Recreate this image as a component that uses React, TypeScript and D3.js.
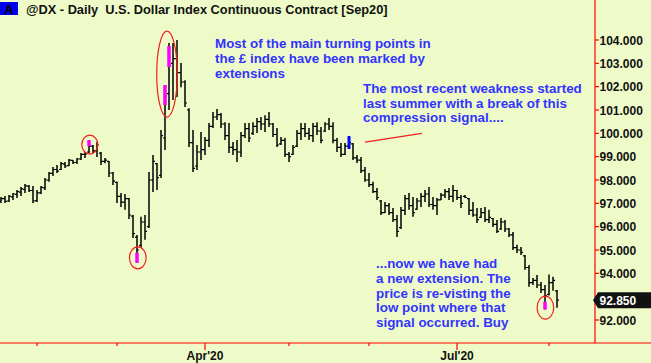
import React, { useEffect, useRef } from 'react';
import * as d3 from 'd3';

// trading calendar of the chart
const firstDay = '2020-01-21';
const lastDay = '2020-08-05';
const closedDays = ['2020-04-10', '2020-05-25'];

const highs = [
	97.27, 97.31, 97.36, 97.44, 97.57, 97.70, 97.83, 97.79, 97.74, 97.57,
	97.74, 98.09, 98.34, 98.56, 98.64, 98.77, 98.77, 98.90, 98.86, 98.94,
	99.16, 99.20, 99.71, 99.50, 99.63, 99.20, 98.94, 98.81, 98.34, 97.92,
	97.44, 97.40, 97.23, 96.50, 95.64, 96.42, 96.50, 98.34, 99.07, 98.73,
	100.14, 102.07, 103.87, 103.87, 104.00, 103.01, 102.28, 101.08, 100.14, 99.50,
	100.06, 99.84, 100.44, 100.91, 101.04, 100.87, 100.48, 100.44, 99.63, 99.71,
	100.06, 100.44, 100.44, 100.48, 100.66, 100.70, 100.78, 100.91, 100.44, 100.23,
	99.84, 99.80, 99.20, 99.50, 100.14, 100.44, 100.44, 100.23, 100.44, 100.48,
	100.27, 100.48, 100.66, 100.48, 99.80, 99.59, 99.59, 99.88, 99.59, 99.07,
	98.99, 98.56, 98.30, 97.92, 97.66, 97.14, 97.06, 97.01, 96.80, 96.50,
	96.84, 97.36, 97.44, 97.27, 97.23, 97.44, 97.57, 97.70, 97.27, 97.23,
	97.44, 97.61, 97.66, 97.79, 97.57, 97.36, 97.36, 97.23, 97.06, 96.80,
	96.80, 96.84, 96.72, 96.37, 96.29, 96.37, 96.29, 95.94, 95.77, 95.22,
	95.13, 94.79, 94.36, 93.80, 93.93, 93.63, 93.50, 93.95, 93.85, 93.29
];
const lows = [
	97.01, 97.01, 97.06, 97.14, 97.23, 97.31, 97.44, 97.49, 97.01, 97.06,
	97.40, 97.57, 97.92, 98.17, 98.30, 98.43, 98.51, 98.60, 98.69, 98.69,
	98.86, 98.94, 99.16, 99.16, 98.99, 98.64, 98.72, 98.13, 97.79, 97.01,
	96.84, 96.72, 96.33, 95.51, 94.45, 95.09, 95.44, 95.94, 97.49, 97.57,
	98.09, 99.29, 101.00, 101.43, 101.56, 101.98, 101.13, 99.41, 98.34, 98.43,
	98.86, 99.07, 99.41, 100.23, 100.57, 100.23, 99.71, 99.16, 99.07, 98.77,
	98.99, 99.80, 99.63, 99.93, 100.01, 100.14, 100.06, 100.27, 99.84, 99.41,
	99.50, 98.99, 98.77, 99.07, 99.41, 99.71, 99.84, 99.71, 99.63, 99.93,
	99.58, 100.06, 100.14, 99.58, 99.20, 98.99, 99.07, 99.33, 98.86, 98.73,
	98.30, 97.92, 97.70, 97.44, 97.14, 96.50, 96.59, 96.50, 96.20, 95.56,
	95.90, 96.50, 96.72, 96.42, 96.72, 96.84, 97.06, 96.84, 96.72, 96.50,
	97.14, 97.23, 97.14, 97.06, 97.14, 96.80, 97.23, 96.50, 96.42, 96.16,
	96.37, 96.20, 96.16, 95.99, 95.73, 95.86, 95.77, 95.56, 95.00, 94.87,
	94.79, 94.15, 93.42, 93.50, 93.37, 93.16, 92.45, 93.05, 93.25, 92.52
];
const opens = [
	97.10, 97.20, 97.10, 97.28, 97.38, 97.48, 97.60, 97.74, 97.55, 97.12,
	97.45, 97.66, 98.00, 98.28, 98.45, 98.45, 98.68, 98.62, 98.84, 98.76,
	98.90, 99.10, 99.20, 99.45, 99.25, 99.15, 98.80, 98.80, 98.30, 97.90,
	97.30, 97.05, 97.20, 96.45, 95.55, 95.20, 96.20, 96.00, 98.00, 98.70,
	98.20, 99.80, 101.70, 103.00, 103.20, 102.60, 102.20, 101.00, 99.60, 98.60,
	99.20, 99.30, 99.70, 100.30, 100.70, 100.80, 100.40, 99.90, 99.40, 99.30,
	99.20, 99.90, 100.20, 100.00, 100.30, 100.50, 100.40, 100.60, 100.40, 99.95,
	99.55, 99.70, 99.10, 99.10, 99.45, 100.00, 100.20, 100.00, 99.90, 100.30,
	100.10, 100.10, 100.40, 100.30, 99.70, 99.40, 99.10, 99.45, 99.55, 98.95,
	98.85, 98.40, 98.00, 97.80, 97.50, 97.10, 96.60, 96.90, 96.60, 96.30,
	95.96, 96.70, 97.20, 96.90, 96.75, 97.10, 97.30, 97.40, 96.95, 96.90,
	97.15, 97.35, 97.50, 97.30, 97.55, 97.25, 97.30, 97.20, 96.70, 96.50,
	96.40, 96.60, 96.30, 96.35, 96.10, 95.90, 96.20, 95.90, 95.65, 95.10,
	95.00, 94.75, 94.25, 93.60, 93.70, 93.50, 93.30, 93.10, 93.60, 93.25
];
const closes = [
	97.20, 97.08, 97.30, 97.40, 97.50, 97.62, 97.75, 97.55, 97.10, 97.45,
	97.68, 98.00, 98.28, 98.45, 98.38, 98.70, 98.60, 98.85, 98.75, 98.90,
	99.10, 99.12, 99.45, 99.25, 99.50, 98.80, 98.85, 98.30, 97.95, 97.30,
	97.05, 97.20, 96.50, 95.70, 95.00, 96.20, 95.80, 98.00, 98.80, 98.10,
	99.90, 101.60, 102.90, 103.20, 102.60, 102.20, 101.30, 99.60, 98.50, 99.20,
	99.30, 99.70, 100.30, 100.70, 100.80, 100.40, 99.90, 99.40, 99.30, 99.20,
	99.90, 100.20, 99.80, 100.30, 100.50, 100.40, 100.60, 100.40, 99.95, 99.50,
	99.70, 99.10, 99.00, 99.40, 100.00, 100.20, 100.00, 99.90, 100.30, 100.10,
	99.70, 100.40, 100.30, 99.70, 99.40, 99.10, 99.45, 99.60, 98.95, 98.85,
	98.40, 98.00, 97.80, 97.50, 97.25, 96.60, 96.90, 96.60, 96.30, 95.80,
	96.70, 97.20, 96.90, 96.60, 97.10, 97.30, 97.40, 96.95, 96.90, 97.15,
	97.35, 97.50, 97.30, 97.55, 97.25, 97.00, 97.25, 96.70, 96.50, 96.30,
	96.60, 96.30, 96.40, 96.10, 95.80, 96.20, 95.90, 95.65, 95.10, 95.00,
	94.90, 94.25, 93.60, 93.70, 93.50, 93.30, 93.05, 93.60, 93.70, 92.85
];

// painted bars: extension (magenta) and compression (blue) signals
const extensionBars = [22, 34, 41, 42, 136];
const extensionFrom = [99.45, 94.45, 101.21, 102.84, 92.45];
const extensionTo = [99.71, 94.88, 102.07, 103.74, 92.78];
const compressionBars = [87];
const compressionFrom = [99.33];
const compressionTo = [99.88];

// red rings drawn round the signals (bar position, price)
const ringBars = [22.2, 34.2, 41.5, 136.1];
const ringPrices = [99.52, 94.66, 102.54, 92.53];
const ringSizes = [[8, 9.5], [8.3, 11], [10.3, 43], [8.3, 11.5]];

const priceTicks = [92, 93, 94, 95, 96, 97, 98, 99, 100, 101, 102, 103, 104];
const lastPrice = 92.85;

const title = '@DX - Daily  U.S. Dollar Index Continuous Contract [Sep20]';
const noteTop = ['Most of the main turning points in', 'the \u00a3 index have been marked by', 'extensions'];
const noteMid = ['The most recent weakness started', 'last summer with a break of this', 'compression signal....'];
const noteLow = ['...now we have had', 'a new extension. The', 'price is re-visting the', 'low point where that', 'signal occurred. Buy'];

const W = 651;
const H = 363;
const FONT = "'Liberation Sans', Arial, sans-serif";
const BG = '#eefbc8';
const RED = '#ff0000';
const BLUE_TEXT = '#3333ff';

export default function App() {
	const ref = useRef<SVGSVGElement>(null);

	useEffect(() => {
		const svg = d3.select(ref.current);
		svg.selectAll('*').remove();

		const parse = d3.utcParse('%Y-%m-%d');
		const fmt = d3.utcFormat('%Y-%m-%d');
		const days = d3.utcDay.range(parse(firstDay)!, d3.utcDay.offset(parse(lastDay)!, 1))
			.filter(d => d.getUTCDay() !== 0 && d.getUTCDay() !== 6 && !closedDays.includes(fmt(d)));

		const axisX = 595;
		const axisY = 343;

		const x = d3.scaleLinear().domain([0, days.length - 1]).range([1, 557]);
		const y = d3.scaleLinear().domain([92, 104]).range([320, 40]);
		const ly = y(lastPrice);

		svg.append('rect').attr('width', W).attr('height', H).attr('fill', BG);

		// title
		svg.append('rect').attr('x', 0).attr('y', 2).attr('width', 18).attr('height', 13).attr('fill', '#0000ee');
		svg.append('text').attr('x', 9).attr('y', 13.5).attr('text-anchor', 'middle')
			.attr('font-family', FONT).attr('font-size', 13).attr('font-weight', 'bold').attr('fill', '#000')
			.text('A');
		svg.append('text').attr('x', 26).attr('y', 13.5)
			.attr('font-family', FONT).attr('font-size', 12.8).attr('font-weight', 'bold').attr('fill', '#111')
			.style('white-space', 'pre')
			.text(title);

		// axes
		svg.append('line').attr('x1', axisX).attr('x2', axisX).attr('y1', 0).attr('y2', axisY)
			.attr('stroke', RED).attr('stroke-width', 1.2);
		svg.append('line').attr('x1', 0).attr('x2', W).attr('y1', axisY).attr('y2', axisY)
			.attr('stroke', RED).attr('stroke-width', 1.2);

		const yt = svg.append('g');
		priceTicks.forEach(v => {
			yt.append('line').attr('x1', axisX).attr('x2', axisX + 4).attr('y1', y(v)).attr('y2', y(v))
				.attr('stroke', RED).attr('stroke-width', 1.2);
			// the last price tag sits over this label
			if (Math.abs(y(v) - ly) < 12) return;
			yt.append('text').attr('x', axisX + 4.5).attr('y', y(v) + 4.5)
				.attr('font-family', FONT).attr('font-size', 12).attr('font-weight', 'bold').attr('fill', '#111')
				.text(d3.format('.3f')(v));
		});

		// month ticks, quarters labelled
		const xt = svg.append('g');
		days.forEach((d, i) => {
			if (i === 0 || d.getUTCMonth() === days[i - 1].getUTCMonth()) return;
			const major = d.getUTCMonth() % 3 === 0;
			xt.append('line').attr('x1', x(i)).attr('x2', x(i)).attr('y1', axisY).attr('y2', axisY + (major ? 7 : 3))
				.attr('stroke', RED).attr('stroke-width', 1.2);
			if (major) {
				xt.append('text').attr('x', x(i)).attr('y', 360).attr('text-anchor', 'middle')
					.attr('font-family', FONT).attr('font-size', 12).attr('font-weight', 'bold').attr('fill', '#111')
					.text(d3.utcFormat("%b'%y")(d));
			}
		});

		// OHLC bars
		const bars = svg.append('g').attr('stroke', '#000');
		days.forEach((d, i) => {
			bars.append('line').attr('x1', x(i)).attr('x2', x(i)).attr('y1', y(highs[i])).attr('y2', y(lows[i]))
				.attr('stroke-width', 1.5);
			bars.append('line').attr('x1', x(i) - 2).attr('x2', x(i)).attr('y1', y(opens[i])).attr('y2', y(opens[i]))
				.attr('stroke-width', 1.2);
			bars.append('line').attr('x1', x(i)).attr('x2', x(i) + 2).attr('y1', y(closes[i])).attr('y2', y(closes[i]))
				.attr('stroke-width', 1.2);
		});

		// signal paint
		extensionBars.forEach((b, k) => {
			svg.append('rect').attr('x', x(b) - 1.75).attr('width', 3.5)
				.attr('y', y(extensionTo[k])).attr('height', y(extensionFrom[k]) - y(extensionTo[k]))
				.attr('fill', '#ff00ff');
		});
		compressionBars.forEach((b, k) => {
			svg.append('rect').attr('x', x(b) - 1.5).attr('width', 3)
				.attr('y', y(compressionTo[k])).attr('height', y(compressionFrom[k]) - y(compressionTo[k]))
				.attr('fill', '#0000ff');
		});

		ringBars.forEach((b, k) => {
			svg.append('ellipse').attr('cx', x(b)).attr('cy', y(ringPrices[k]))
				.attr('rx', ringSizes[k][0]).attr('ry', ringSizes[k][1])
				.attr('fill', 'none').attr('stroke', '#f02020').attr('stroke-width', 1.2);
		});

		// pointer to the compression bar
		svg.append('line').attr('x1', x(91)).attr('y1', y(99.62)).attr('x2', x(105.2)).attr('y2', y(100))
			.attr('stroke', '#f02020').attr('stroke-width', 1.3);

		// notes
		const note = (lines: string[], x0: number, y0: number) => {
			lines.forEach((t, k) => {
				svg.append('text').attr('x', x0).attr('y', y0 + k * 14.7)
					.attr('font-family', FONT).attr('font-size', 13.4).attr('font-weight', 'bold').attr('fill', BLUE_TEXT)
					.text(t);
			});
		};
		note(noteTop, 215, 48.3);
		note(noteMid, 363, 93);
		note(noteLow, 376, 268.3);

		// last price tag
		svg.append('path')
			.attr('d', `M${axisX - 2},${ly} L${axisX + 3},${ly - 8} H${W} V${ly + 8} H${axisX + 3} Z`)
			.attr('fill', '#111');
		svg.append('text').attr('x', axisX + 4.5).attr('y', ly + 4.5)
			.attr('font-family', FONT).attr('font-size', 12).attr('font-weight', 'bold').attr('fill', '#fff')
			.text(d3.format('.3f')(lastPrice));
	}, []);

	return (
		<svg ref={ref} width={W} height={H} style={{ position: 'absolute', left: 0, top: 0, display: 'block' }} />
	);
}
